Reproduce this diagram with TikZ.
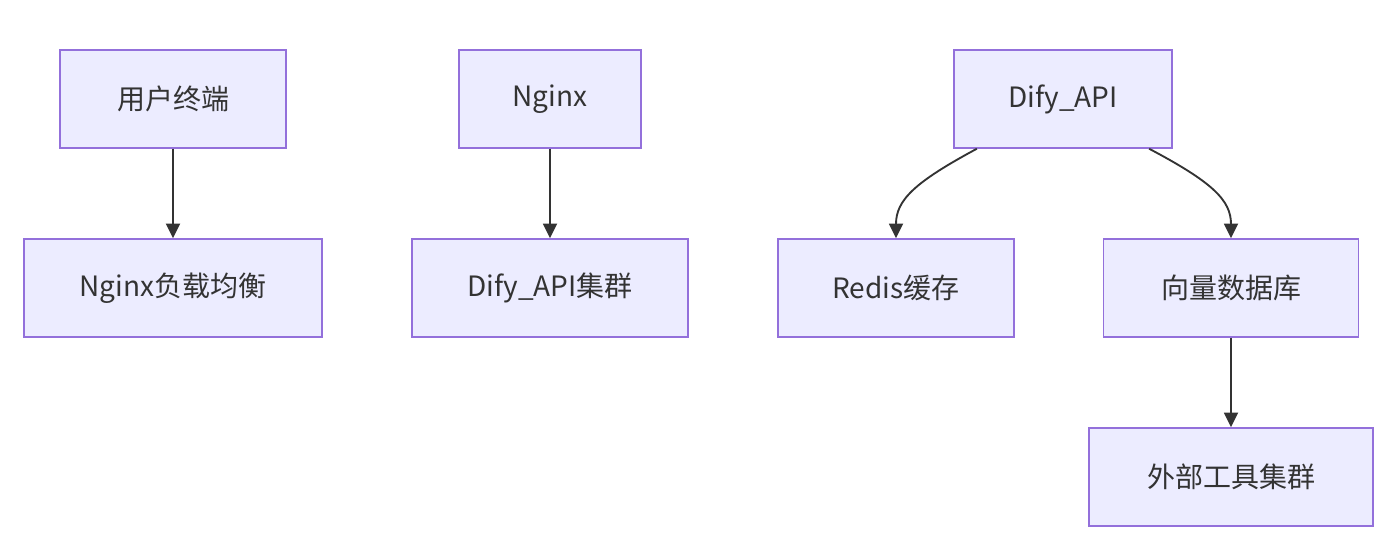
\documentclass[tikz,border=0pt]{standalone}
\usepackage{fontspec}
\setmainfont{Noto Sans CJK SC}
\usetikzlibrary{arrows.meta}

\definecolor{boxfill}{RGB}{236,236,255}
\definecolor{boxline}{RGB}{147,112,219}
\definecolor{edgeline}{RGB}{51,51,51}

\begin{document}
\begin{tikzpicture}[x=0.75pt,y=0.75pt,yscale=-1,xscale=1,
    box/.style={draw=boxline, fill=boxfill, line width=1.1pt, text=edgeline,
                font=\fontsize{21}{25}\selectfont, minimum height=73.5pt, inner sep=0pt},
    flow/.style={draw=edgeline, line width=1.4pt, -{Triangle[length=11pt,width=10.5pt]}}]
        \useasboundingbox (0,0) rectangle (1400,541);

        % Text Node
        \node [box, minimum width=169.5pt] (user) at (173,99) {用户终端};
        % Text Node
        \node [box, minimum width=223.5pt] (lb) at (173,288) {Nginx负载均衡};
        % Text Node
        \node [box, minimum width=136.5pt] (nginx) at (550,99) {Nginx};
        % Text Node
        \node [box, minimum width=207pt] (cluster) at (550,288) {Dify\_API集群};
        % Text Node
        \node [box, minimum width=163.5pt] (dapi) at (1063,99) {Dify\_API};
        % Text Node
        \node [box, minimum width=177pt] (redis) at (896,288) {Redis缓存};
        % Text Node
        \node [box, minimum width=191.25pt] (vdb) at (1231,288) {向量数据库};
        % Text Node
        \node [box, minimum width=213pt] (tools) at (1231,477) {外部工具集群};

        %Straight Lines
        \draw [flow] (user) -- (lb);
        \draw [flow] (nginx) -- (cluster);
        \draw [flow] (vdb) -- (tools);
        %Curve Lines
        \draw [flow] (dapi.-150) .. controls (915,182) and (896,200) .. (redis.north);
        \draw [flow] (dapi.-30) .. controls (1212,182) and (1231,200) .. (vdb.north);

\end{tikzpicture}
\end{document}
